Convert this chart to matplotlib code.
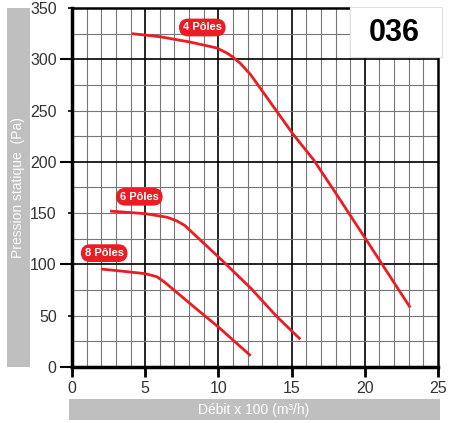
import matplotlib
matplotlib.use("Agg")
import matplotlib.pyplot as plt
from matplotlib.patches import Rectangle
import numpy as np

plt.rcParams['font.family'] = ['Liberation Sans', 'DejaVu Sans']

# Data (débit x100 m3/h, pression Pa)
x4 = [4.1, 6.0, 8.0, 9.9, 10.6, 11.0, 11.5, 12.2, 13.1, 15.1, 16.5, 17.9, 20.1, 23.1]
y4 = [325, 322, 317, 311, 306, 302, 296, 285, 267, 227, 202, 172, 124, 58]
x6 = [2.6, 5.0, 6.5, 7.15, 7.7, 8.3, 10.1, 12.2, 14.0, 15.6]
y6 = [152, 149.5, 146, 142.5, 138, 130, 106, 77, 49, 27]
x8 = [2.0, 3.7, 5.0, 5.8, 6.3, 6.8, 8.3, 10.0, 12.2]
y8 = [95.5, 93, 91, 88, 83, 77, 59, 39, 11]
labels = ["4 Pôles", "6 Pôles", "8 Pôles"]
label_pos = [(8.9, 331), (4.6, 166), (2.2, 111)]
xticks = [0, 5, 10, 15, 20, 25]
yticks_major = [0, 100, 200, 300]
yticks_minor = [50, 150, 250, 350]
model = "036"

W, H = 449, 423
fig = plt.figure(figsize=(W / 100, H / 100), dpi=100)
L, R, T, B = 72, 438, 8, 367
ax = fig.add_axes([L / W, (H - B) / H, (R - L) / W, (B - T) / H])
ax.set_xlim(0, 25)
ax.set_ylim(0, 350)

# grid
for xv in range(1, 25):
    if xv % 5 == 0:
        ax.axvline(xv, color='black', lw=1.2, zorder=1)
    else:
        ax.axvline(xv, color='#777777', lw=0.8, zorder=1)
for yv in range(25, 350, 25):
    if yv % 100 == 0:
        ax.axhline(yv, color='black', lw=1.2, zorder=1)
    else:
        ax.axhline(yv, color='#777777', lw=0.8, zorder=1)

red = '#ec1c24'
for xs, ys in [(x4, y4), (x6, y6), (x8, y8)]:
    ax.plot(xs, ys, color=red, lw=2.0, solid_capstyle='butt',
            solid_joinstyle='round', zorder=3)
for lab, (lx, ly) in zip(labels, label_pos):
    ax.text(lx, ly, lab, color='white', fontsize=8, fontweight='bold',
            ha='center', va='center', zorder=5,
            bbox=dict(boxstyle='round,pad=0.35,rounding_size=0.85', fc=red, ec='none'))

# ticks
ax.set_xticks(xticks)
ax.set_xticklabels([str(v) for v in xticks])
ax.set_yticks(yticks_major)
ax.set_yticklabels([str(v) for v in yticks_major])
ax.set_yticks(yticks_minor, minor=True)
ax.set_yticklabels([str(v) for v in yticks_minor], minor=True)
ax.tick_params(axis='x', which='major', length=7, width=2, direction='out',
               labelsize=11.5, labelcolor='#333333', pad=3, color='black')
ax.tick_params(axis='y', which='major', length=9, width=1.5, direction='out',
               labelsize=11.5, labelcolor='#333333', pad=2, color='black')
ax.tick_params(axis='y', which='minor', length=3, width=1.2, direction='out',
               labelsize=11.5, labelcolor='#333333', pad=8, color='black')
ax.tick_params(axis='x', which='minor', length=0)

for s in ['left', 'bottom']:
    ax.spines[s].set_linewidth(2.5)
for s in ['top', 'right']:
    ax.spines[s].set_linewidth(1.8)
for s in ax.spines.values():
    s.set_color('black')

# model box
fig.patches.append(Rectangle((350 / W, (H - 57) / H), 92 / W, 50 / H,
                             transform=fig.transFigure, fc='white',
                             ec='#e0e0e0', lw=0.8, zorder=10))
fig.text(394 / W, 1 - 33 / H, model, fontsize=22, fontweight='bold',
         ha='center', va='center', color='black', zorder=11)

# label bands
grey = '#bfbfbf'
fig.patches.append(Rectangle((7 / W, (H - 367) / H), 23 / W, 359 / H,
                             transform=fig.transFigure, fc=grey, ec='none', zorder=1))
fig.text(18.5 / W, 1 - 187.5 / H, "Pression statique  (Pa)", rotation=90,
         color='white', fontsize=10, ha='center', va='center', zorder=2)
fig.patches.append(Rectangle((69 / W, (H - 420) / H), 371 / W, 21 / H,
                             transform=fig.transFigure, fc=grey, ec='none', zorder=1))
fig.text(254 / W, 1 - 409.5 / H, "Débit x 100 (m³/h)",
         color='white', fontsize=10, ha='center', va='center', zorder=2)

fig.savefig("out.png", dpi=100)
